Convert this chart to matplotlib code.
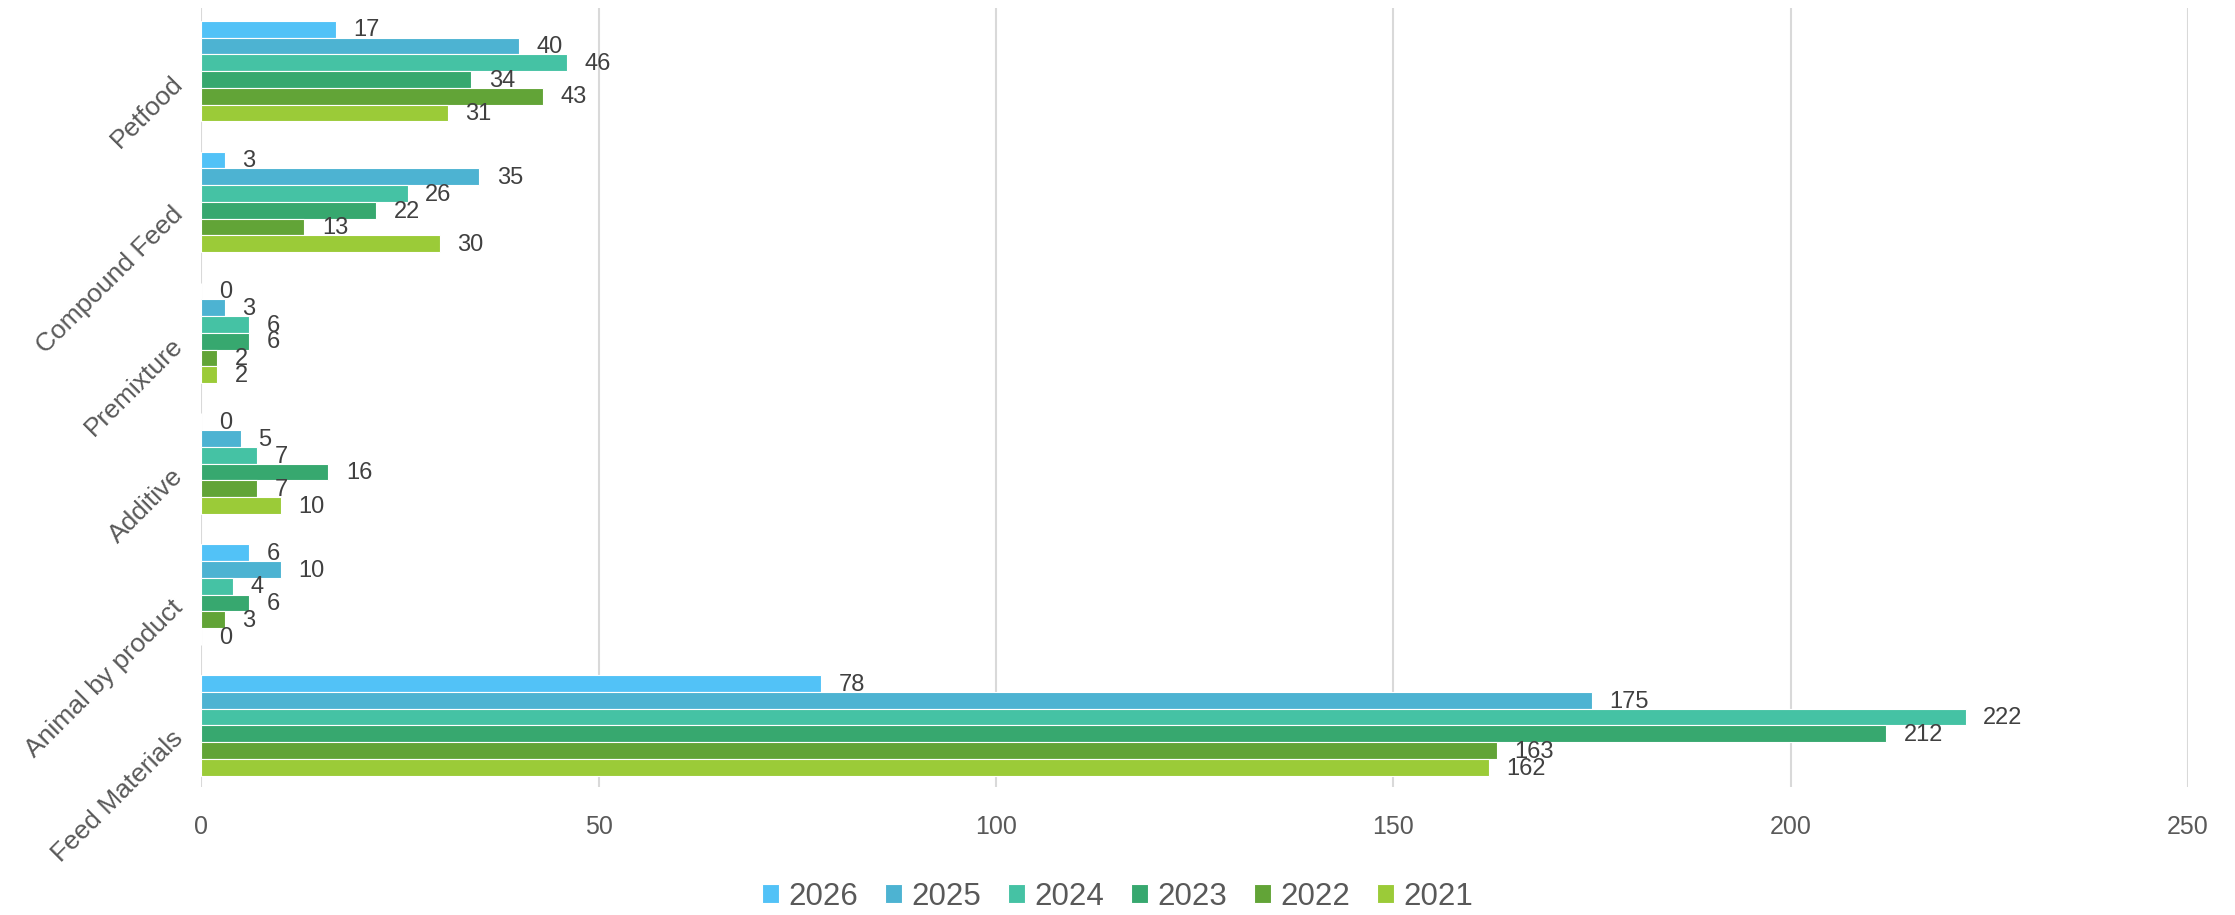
import matplotlib.pyplot as plt
import matplotlib.transforms as mtransforms
import numpy as np

plt.rcParams['font.family'] = ['Liberation Sans', 'DejaVu Sans']

categories = ["Petfood", "Compound Feed", "Premixture", "Additive",
              "Animal by product", "Feed Materials"]
years = ["2026", "2025", "2024", "2023", "2022", "2021"]
v2026 = [17, 3, 0, 0, 6, 78]
v2025 = [40, 35, 3, 5, 10, 175]
v2024 = [46, 26, 6, 7, 4, 222]
v2023 = [34, 22, 6, 16, 6, 212]
v2022 = [43, 13, 2, 7, 3, 163]
v2021 = [31, 30, 2, 10, 0, 162]
series = [v2026, v2025, v2024, v2023, v2022, v2021]
colors = ["#52C2F7", "#4DB3D2", "#45C2A4", "#37A86F", "#62A437", "#9BCB38"]

fig = plt.figure(figsize=(22.35, 9.15), dpi=100)
ax = fig.add_axes([0.090, 0.140, 0.889, 0.851])

n = len(categories)
bar_h = 0.128
ypos = np.arange(n)[::-1]  # Petfood on top
for i, (yr, vals, c) in enumerate(zip(years, series, colors)):
    offs = (2.5 - i) * bar_h
    ax.barh(ypos + offs, vals, height=bar_h, color=c, label=yr,
            edgecolor="white", linewidth=0.8, zorder=3)
    for y, v in zip(ypos + offs, vals):
        ax.text(v + 2.2, y - 0.01, str(v), va="center", ha="left",
                fontsize=17, color="#404040", zorder=4)

ax.set_xlim(0, 250)
ax.set_ylim(-0.47, n - 1 + 0.48)
ax.set_xticks(np.arange(0, 251, 50))
ax.set_yticks(ypos)
ax.set_yticklabels(categories, rotation=45, ha="right", va="center",
                   rotation_mode="anchor", fontsize=19)
ax.tick_params(axis="both", length=0, labelcolor="#595959")
ax.tick_params(axis="x", pad=20, labelsize=18)
ax.tick_params(axis="y", pad=16)
# nudge category labels a little down
shift = mtransforms.ScaledTranslation(0, -0.09, fig.dpi_scale_trans)
for lbl in ax.get_yticklabels():
    lbl.set_transform(lbl.get_transform() + shift)
ax.grid(axis="x", color="#D9D9D9", linewidth=1.5, zorder=0)
for s in ax.spines.values():
    s.set_visible(False)

fig.legend(loc="center", bbox_to_anchor=(0.5, 0.02), ncol=6,
           frameon=False, fontsize=22.5, labelcolor="#595959",
           handlelength=0.55, handleheight=0.55, handletextpad=0.3,
           columnspacing=0.85)

fig.savefig("out.png", dpi=100)
